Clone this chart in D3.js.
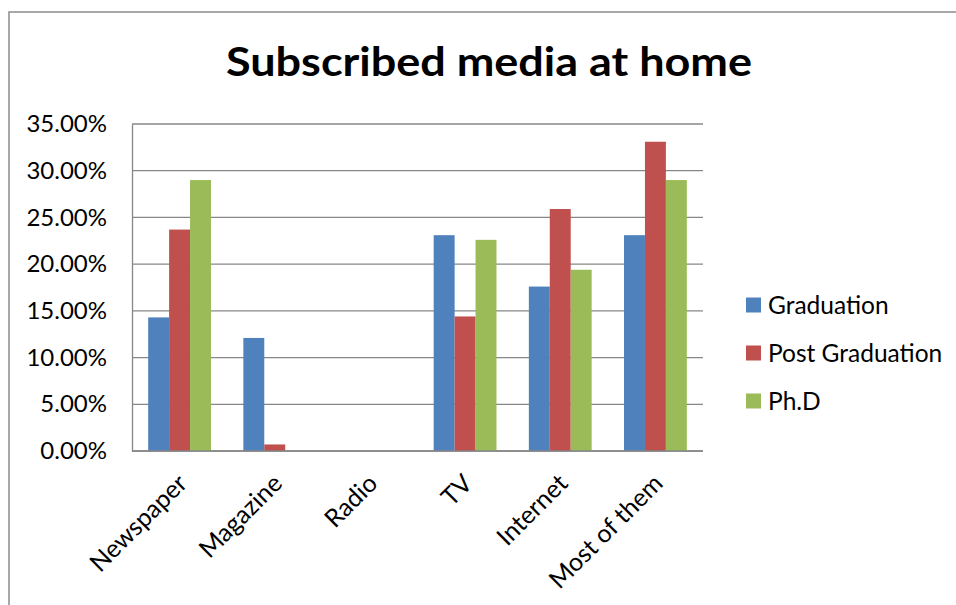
<!DOCTYPE html>
<html>
<head>
<meta charset="utf-8">
<script src="https://cdn.jsdelivr.net/npm/d3@7"></script>
<style>
  html, body { margin: 0; padding: 0; background: #fff; }
  svg { display: block; }
  text { font-family: Lato, "Open Sans", sans-serif; fill: #000; }
</style>
</head>
<body>
<svg id="chart" width="956" height="605"></svg>
<script>
// Share of respondents by subscribed media, per education level
const categories = ["Newspaper", "Magazine", "Radio", "TV", "Internet", "Most of them"];
const seriesNames = ["Graduation", "Post Graduation", "Ph.D"];
const graduation = [14.3, 12.1, 0, 23.1, 17.6, 23.1];
const postGraduation = [23.7, 0.7, 0, 14.4, 25.9, 33.1];
const phd = [29.0, 0, 0, 22.6, 19.4, 29.0];
const yTicks = [0, 5, 10, 15, 20, 25, 30, 35];
const colors = ["#4F81BD", "#C0504D", "#9BBB59"];

const series = [graduation, postGraduation, phd];

const svg = d3.select("#chart");
const W = 956, H = 605;
const plot = { left: 132, right: 703, top: 124, bottom: 451 };

// outer chart frame (runs past the right and bottom edges)
svg.append("rect")
  .attr("x", 9).attr("y", 12)
  .attr("width", W).attr("height", H)
  .attr("fill", "#fff")
  .attr("stroke", "#8c8c8c").attr("stroke-width", 1.5);

// title
svg.append("text")
  .attr("x", 489).attr("y", 76)
  .attr("text-anchor", "middle")
  .attr("font-size", 41).attr("font-weight", 700)
  .attr("textLength", 526)
  .attr("lengthAdjust", "spacingAndGlyphs")
  .text("Subscribed media at home");

const x0 = d3.scaleBand()
  .domain(categories)
  .range([plot.left, plot.right])
  .paddingInner(0.34)
  .paddingOuter(0.17);

const x1 = d3.scaleBand()
  .domain(seriesNames)
  .range([0, x0.bandwidth()]);

const y = d3.scaleLinear()
  .domain([0, 35])
  .range([plot.bottom, plot.top]);

// horizontal gridlines
svg.append("g")
  .selectAll("line")
  .data(yTicks)
  .join("line")
  .attr("x1", plot.left).attr("x2", plot.right)
  .attr("y1", d => y(d)).attr("y2", d => y(d))
  .attr("stroke", "#878787").attr("stroke-width", 1.3);

// value axis labels
const yAxis = d3.axisLeft(y)
  .tickValues(yTicks)
  .tickSize(0)
  .tickPadding(25)
  .tickFormat(d => d3.format(".2f")(d) + "%");

svg.append("g")
  .attr("transform", `translate(${plot.left},0)`)
  .call(yAxis)
  .call(g => g.select(".domain").attr("stroke", "#878787").attr("stroke-width", 1.3))
  .call(g => g.selectAll("text")
    .attr("font-size", 24)
    .attr("font-family", "Lato, 'Open Sans', sans-serif")
    .attr("fill", "#000"));

// bars
const rows = categories.map((c, i) => ({ cat: c, vals: series.map((s, k) => ({ name: seriesNames[k], k, v: s[i] })) }));

svg.append("g")
  .selectAll("g")
  .data(rows)
  .join("g")
  .attr("transform", d => `translate(${x0(d.cat)},0)`)
  .selectAll("rect")
  .data(d => d.vals)
  .join("rect")
  .attr("x", d => x1(d.name))
  .attr("width", x1.bandwidth())
  .attr("y", d => y(d.v))
  .attr("height", d => y(0) - y(d.v))
  .attr("fill", d => colors[d.k]);

// category axis line
svg.append("line")
  .attr("x1", plot.left).attr("x2", plot.right)
  .attr("y1", y(0)).attr("y2", y(0))
  .attr("stroke", "#878787").attr("stroke-width", 1.3);

// rotated category labels
svg.append("g")
  .selectAll("text")
  .data(categories)
  .join("text")
  .attr("text-anchor", "end")
  .attr("font-size", 25)
  .attr("transform", d => `translate(${x0(d) + x0.bandwidth() / 2 + 9},485) rotate(-45)`)
  .text(d => d);

// legend
const legend = svg.append("g")
  .selectAll("g")
  .data(seriesNames)
  .join("g")
  .attr("transform", (d, i) => `translate(746,${305 + i * 48})`);

legend.append("rect")
  .attr("x", 0).attr("y", -7.5)
  .attr("width", 15).attr("height", 15)
  .attr("fill", (d, i) => colors[i]);

legend.append("text")
  .attr("x", 22).attr("y", 0)
  .attr("dy", "0.35em")
  .attr("font-size", 24.5)
  .text(d => d);
</script>
</body>
</html>
